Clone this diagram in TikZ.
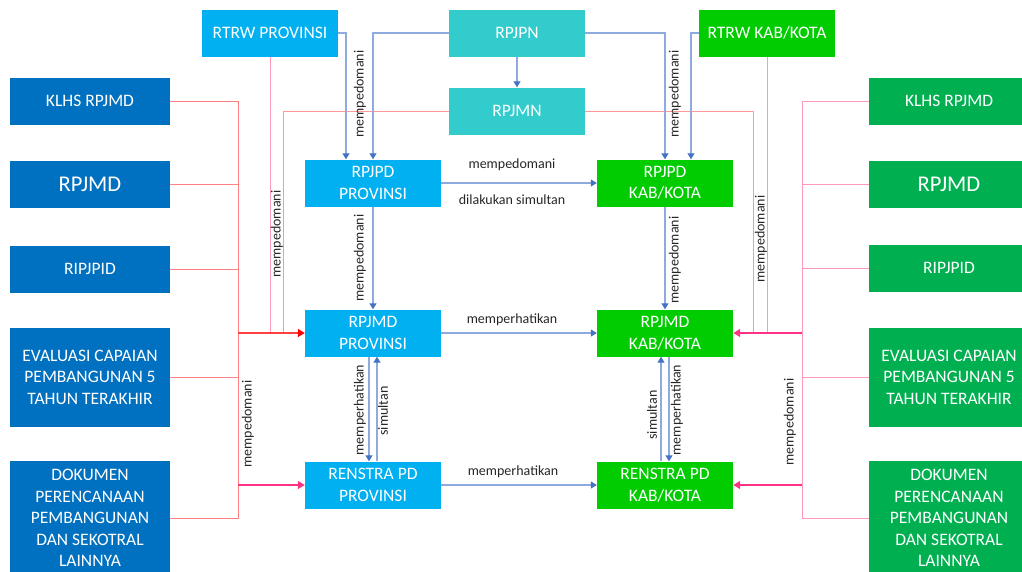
\documentclass[tikz,border=0pt]{standalone}
\usepackage{fontspec}
\setmainfont{Carlito}
\usepackage{tikz}
\usetikzlibrary{arrows.meta}
\definecolor{provblue}{HTML}{00B0F0}
\definecolor{kabgreen}{HTML}{00CC00}
\definecolor{nasteal}{HTML}{33CCCC}
\definecolor{docblue}{HTML}{0070C0}
\definecolor{docgreen}{HTML}{00B050}
\definecolor{lineblue}{HTML}{8FAADC}
\definecolor{tipblue}{HTML}{4472C4}
\definecolor{lred}{HTML}{FF8080}
\definecolor{lredarrow}{HTML}{FF4040}
\definecolor{lpink}{HTML}{FF99BB}
\definecolor{lsalmon}{HTML}{FF9999}
\definecolor{rarrowcol}{HTML}{FF3385}
\definecolor{lbltext}{HTML}{262626}

\begin{document}
\begin{tikzpicture}[x=1pt, y=-1pt,
  box/.style={minimum width=136pt, minimum height=47pt, inner sep=0pt, align=center, text=white, font=\fontsize{17.5}{21.5}\selectfont},
  prov/.style={box, fill=provblue},
  kab/.style={box, fill=kabgreen},
  nas/.style={box, fill=nasteal},
  leftdoc/.style={box, minimum width=160pt, fill=docblue},
  rightdoc/.style={box, minimum width=160pt, fill=docgreen},
  big/.style={font=\fontsize{22.5}{26}\selectfont},
  blueline/.style={draw=lineblue, line width=1.1pt},
  bluearrow/.style={blueline, -{Triangle[width=7pt, length=6pt, color=tipblue]}},
  redline/.style={draw=lred, line width=1pt},
  pinkline/.style={draw=lpink, line width=1pt},
  salmonline/.style={draw=lsalmon, line width=1pt},
  redarrow/.style={draw=lredarrow, line width=1.3pt, -{Triangle[width=8pt, length=7pt, color=red]}},
  pinkarrow/.style={draw=rarrowcol, line width=1.2pt, -{Triangle[width=8pt, length=7pt, color=rarrowcol]}},
  lbl/.style={font=\fontsize{14}{16}\selectfont, text=lbltext, inner sep=0pt},
  vlbl/.style={lbl, rotate=90}]
\clip (0, 0) rectangle (1022, 571);

\node (rtrwprov) at (270, 33) [prov] {RTRW PROVINSI};
\node (rpjpn) at (517, 33) [nas] {RPJPN};
\node (rtrwkab) at (767, 33) [kab] {RTRW KAB/KOTA};
\node (rpjmn) at (517, 111) [nas] {RPJMN};
\node (rpjpdprov) at (373, 183) [prov] {RPJPD\\PROVINSI};
\node (rpjpdkab) at (665, 183) [kab] {RPJPD\\KAB/KOTA};
\node (rpjmdprov) at (373, 333) [prov] {RPJMD\\PROVINSI};
\node (rpjmdkab) at (665, 333) [kab] {RPJMD\\KAB/KOTA};
\node (renstraprov) at (373, 485) [prov] {RENSTRA PD\\PROVINSI};
\node (renstrakab) at (665, 485) [kab] {RENSTRA PD\\KAB/KOTA};

\node (klhsl) at (90, 101) [leftdoc] {KLHS RPJMD};
\node (rpjmdl) at (90, 184) [leftdoc, big] {RPJMD};
\node (ripjpidl) at (90, 269) [leftdoc] {RIPJPID};
\node (evall) at (90, 377) [leftdoc, minimum height=99pt] {EVALUASI CAPAIAN\\PEMBANGUNAN 5\\TAHUN TERAKHIR};
\node (dokl) at (90, 518) [leftdoc, minimum height=114pt] {DOKUMEN\\PERENCANAAN\\PEMBANGUNAN\\DAN SEKOTRAL\\LAINNYA};
\node (klhsr) at (949, 101) [rightdoc] {KLHS RPJMD};
\node (rpjmdr) at (949, 184) [rightdoc, big] {RPJMD};
\node (ripjpidr) at (949, 268) [rightdoc] {RIPJPID};
\node (evalr) at (949, 377) [rightdoc, minimum height=99pt] {EVALUASI CAPAIAN\\PEMBANGUNAN 5\\TAHUN TERAKHIR};
\node (dokr) at (949, 518) [rightdoc, minimum height=114pt] {DOKUMEN\\PERENCANAAN\\PEMBANGUNAN\\DAN SEKOTRAL\\LAINNYA};

\coordinate (lbus) at (238, 333);
\coordinate (rbus) at (802, 333);

\draw [redline] (klhsl.east) -| (lbus);
\draw [redline] (rpjmdl.east) -- (rpjmdl.east -| lbus);
\draw [redline] (ripjpidl.east) -- (ripjpidl.east -| lbus);
\draw [redline] (evall.east) -- (evall.east -| lbus);
\draw [redline] (dokl.east) -| (lbus);
\draw [pinkline] (rtrwprov.south) -- (rtrwprov.south |- rpjmdprov.west);
\draw [salmonline] (rpjmn.west) -| ([xshift=-21pt]rpjmdprov.west);
\draw [redarrow] (lbus) -- (rpjmdprov.west);
\draw [pinkarrow] (lbus |- renstraprov.west) -- (renstraprov.west);

\draw [pinkline] (klhsr.west) -| (rbus);
\draw [pinkline] (rpjmdr.west) -- (rpjmdr.west -| rbus);
\draw [pinkline] (ripjpidr.west) -- (ripjpidr.west -| rbus);
\draw [pinkline] (evalr.west) -- (evalr.west -| rbus);
\draw [pinkline] (dokr.west) -| (rbus);
\draw [pinkline] (rtrwkab.south) -- (rtrwkab.south |- rpjmdkab.east);
\draw [salmonline] (rpjmn.east) -| ([xshift=20pt]rpjmdkab.east);
\draw [pinkarrow] (rbus) -- (rpjmdkab.east);
\draw [pinkarrow] (rbus |- renstrakab.east) -- (renstrakab.east);

\draw [bluearrow] (rtrwprov.east) -| ([xshift=-27pt]rpjpdprov.north);
\draw [bluearrow] (rpjpn.west) -| (rpjpdprov.north);
\draw [bluearrow] (rpjpn.south) -- (rpjmn.north);
\draw [bluearrow] (rpjpn.east) -| (rpjpdkab.north);
\draw [bluearrow] (rtrwkab.west) -| ([xshift=26pt]rpjpdkab.north);
\draw [bluearrow] (rpjpdprov.east) -- (rpjpdkab.west);
\draw [bluearrow] (rpjpdprov.south) -- (rpjmdprov.north);
\draw [bluearrow] (rpjpdkab.south) -- (rpjmdkab.north);
\draw [bluearrow] (rpjmdprov.east) -- (rpjmdkab.west);
\draw [bluearrow] (renstraprov.east) -- (renstrakab.west);
\draw [bluearrow] ([xshift=-4pt]rpjmdprov.south) -- ([xshift=-4pt]renstraprov.north);
\draw [bluearrow] ([xshift=4pt]renstraprov.north) -- ([xshift=4pt]rpjmdprov.south);
\draw [bluearrow] ([xshift=-4pt]renstrakab.north) -- ([xshift=-4pt]rpjmdkab.south);
\draw [bluearrow] ([xshift=4pt]rpjmdkab.south) -- ([xshift=4pt]renstrakab.north);

\node (mpdrtrwprov) at (360, 94) [vlbl] {mempedomani};
\node (mpdrpjpn) at (675, 94) [vlbl] {mempedomani};
\node (mpdrpjpd) at (512, 165) [lbl] {mempedomani};
\node (simrpjpd) at (512, 200) [lbl] {dilakukan simultan};
\node (mpdprov) at (360, 258) [vlbl] {mempedomani};
\node (mpdkab) at (675, 260) [vlbl] {mempedomani};
\node (mphrpjmd) at (512, 320) [lbl] {memperhatikan};
\node (mphprov) at (360, 410) [vlbl] {memperhatikan};
\node (simprov) at (383, 411) [vlbl] {simultan};
\node (simkab) at (652, 415) [vlbl] {simultan};
\node (mphkab) at (677, 410) [vlbl] {memperhatikan};
\node (mphrenstra) at (513, 472) [lbl] {memperhatikan};
\node (mpdleft) at (277, 234) [vlbl] {mempedomani};
\node (mpdlbus) at (248, 424) [vlbl] {mempedomani};
\node (mpdright) at (761, 239) [vlbl] {mempedomani};
\node (mpdrbus) at (790, 422) [vlbl] {mempedomani};
\end{tikzpicture}
\end{document}
